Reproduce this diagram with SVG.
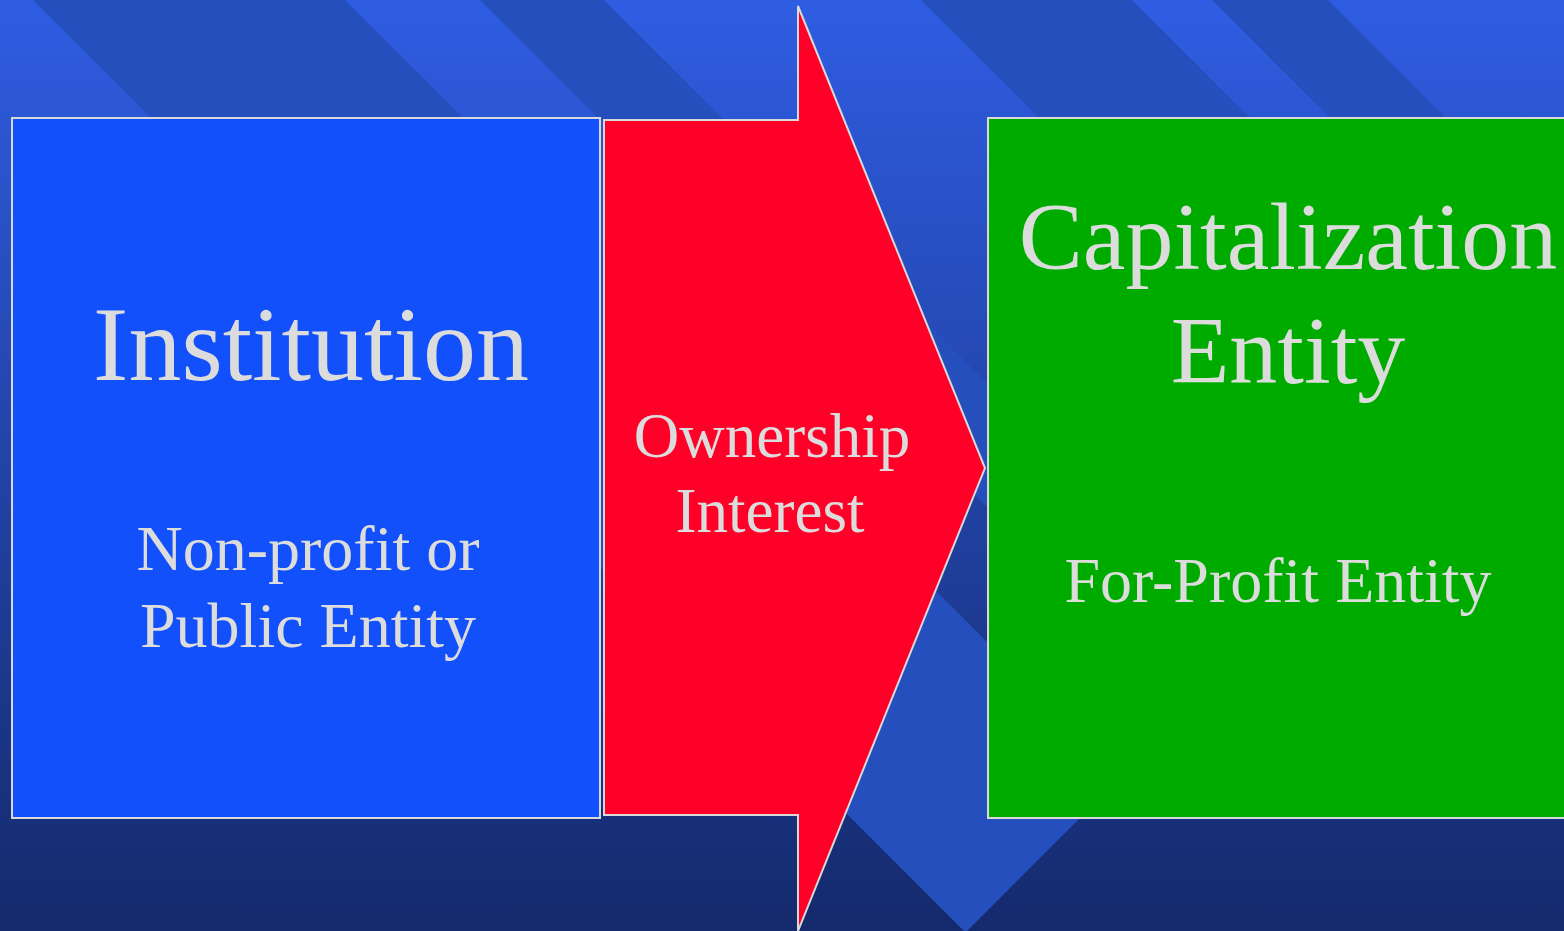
<svg xmlns="http://www.w3.org/2000/svg" width="1564" height="931" viewBox="0 0 1564 931">
  <defs>
    <linearGradient id="bg" x1="0" y1="0" x2="0" y2="1">
      <stop offset="0" stop-color="#2f5de2"/>
      <stop offset="1" stop-color="#152a6c"/>
    </linearGradient>
  </defs>
  <style>
    .stripe { fill: #264fbe; }
    .box { stroke: #d9d9d9; stroke-width: 2; }
    .lbl { font-family: "Liberation Serif", "Times New Roman", serif; fill: #dcdcdc; text-anchor: middle; }
  </style>
  <g id="background">
    <rect x="0" y="0" width="1564" height="931" fill="url(#bg)"/>
    <polygon class="stripe" points="33,0 345,0 1121.5,776.5 965.5,932.5"/>
    <polygon class="stripe" points="480,0 604,0 1251,647 1189,709"/>
    <polygon class="stripe" points="921,0 1132,0 1515,383 1409.5,488.5"/>
    <polygon class="stripe" points="1212,0 1328,0 1613,285 1555,343"/>
  </g>
  <g id="institution">
    <rect class="box" x="12" y="118" width="588" height="700" fill="#1150fa"/>
    <text class="lbl" x="311" y="380" font-size="106">Institution</text>
    <text class="lbl" x="308" y="570" font-size="64">Non-profit or</text>
    <text class="lbl" x="308" y="647" font-size="64">Public Entity</text>
  </g>
  <g id="connectors">
    <g id="ownership-arrow">
      <polygon class="box" points="604,120 798,120 798,6 985,468 798,931 798,815 604,815" fill="#ff0029"/>
      <text class="lbl" x="772" y="457" font-size="63">Ownership</text>
      <text class="lbl" x="770" y="532" font-size="63">Interest</text>
    </g>
  </g>
  <g id="capitalization">
    <rect class="box" x="988" y="118" width="590" height="700" fill="#00ab00"/>
    <text class="lbl" x="1288" y="269" font-size="96">Capitalization</text>
    <text class="lbl" x="1288" y="383" font-size="96">Entity</text>
    <text class="lbl" x="1278" y="602" font-size="64">For-Profit Entity</text>
  </g>
</svg>
